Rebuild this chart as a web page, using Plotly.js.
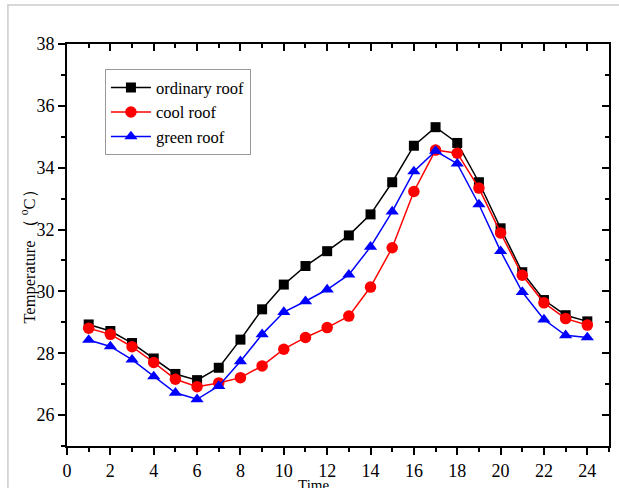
<!DOCTYPE html>
<html><head><meta charset="utf-8">
<script src="https://cdn.plot.ly/plotly-3.0.1.min.js"></script>
<style>html,body{margin:0;padding:0;background:#fff}#c{width:619px;height:488px}</style>
</head><body><div id="c"></div>
<script>
const hours = [1,2,3,4,5,6,7,8,9,10,11,12,13,14,15,16,17,18,19,20,21,22,23,24];
const ordinaryRoof = [28.93,28.72,28.33,27.83,27.33,27.13,27.53,28.44,29.42,30.22,30.82,31.30,31.81,32.49,33.53,34.71,35.31,34.80,33.53,32.04,30.62,29.72,29.23,29.03];
const coolRoof = [28.81,28.61,28.21,27.70,27.16,26.92,27.04,27.21,27.59,28.13,28.51,28.83,29.20,30.14,31.41,33.23,34.57,34.47,33.34,31.89,30.52,29.63,29.12,28.91];
const greenRoof = [28.43,28.22,27.79,27.25,26.72,26.51,26.94,27.74,28.61,29.33,29.68,30.06,30.54,31.44,32.58,33.88,34.54,34.13,32.81,31.30,29.98,29.09,28.58,28.51];
const seriesNames = ['ordinary roof','cool roof','green roof'];
const xTickVals = [0,2,4,6,8,10,12,14,16,18,20,22,24];
const yTickVals = [26,28,30,32,34,36,38];
const xTitle = 'Time';
const yTitle = 'Temperature （ <sup>o</sup>C）';

const serif = 'Liberation Serif, Times New Roman, serif';
const traces = [
  {x:hours,y:ordinaryRoof,name:seriesNames[0],mode:'lines+markers',
   line:{color:'#000000',width:1.5},marker:{symbol:'square',size:10,color:'#000000'}},
  {x:hours,y:coolRoof,name:seriesNames[1],mode:'lines+markers',
   line:{color:'#ff0000',width:1.5},marker:{symbol:'circle',size:11.5,color:'#ff0000'}},
  {x:hours,y:greenRoof,name:seriesNames[2],mode:'lines+markers',
   line:{color:'#0000ff',width:1.5},marker:{symbol:'triangle-up',size:11.5,color:'#0000ff'}},
  {x:[],y:[],xaxis:'x2',yaxis:'y2',showlegend:false,hoverinfo:'skip',mode:'markers'}
];
const xr=[0,25], yr=[25,38];
const layout = {
  width:619,height:488,
  margin:{l:67,r:10,t:44,b:42},
  paper_bgcolor:'#ffffff',plot_bgcolor:'#ffffff',
  font:{family:serif,color:'#000'},
  showlegend:true,
  legend:{x:0.07,y:0.937,xanchor:'left',yanchor:'top',bgcolor:'#ffffff',
    bordercolor:'#999999',borderwidth:1,font:{family:serif,size:16.5,color:'#000'},
    tracegroupgap:0,itemwidth:40},
  xaxis:{range:xr,tickvals:xTickVals,showgrid:false,zeroline:false,showline:true,
    linecolor:'#000',linewidth:2,ticks:'outside',ticklen:7,tickwidth:2,tickcolor:'#000',
    minor:{dtick:1,tick0:0,ticks:'outside',ticklen:4,tickwidth:2,tickcolor:'#000',showgrid:false},
    tickfont:{family:serif,size:18,color:'#000'}},
  yaxis:{range:yr,tickvals:yTickVals,showgrid:false,zeroline:false,showline:true,
    linecolor:'#000',linewidth:2,ticks:'outside',ticklen:7,tickwidth:2,tickcolor:'#000',
    minor:{dtick:1,tick0:0,ticks:'outside',ticklen:4,tickwidth:2,tickcolor:'#000',showgrid:false},
    tickfont:{family:serif,size:18,color:'#000'}},
  xaxis2:{range:xr,overlaying:'x',side:'top',anchor:'y2',tickvals:xTickVals,showticklabels:false,
    showgrid:false,zeroline:false,showline:true,linecolor:'#000',linewidth:2,
    ticks:'inside',ticklen:7,tickwidth:2,tickcolor:'#000',
    minor:{dtick:1,tick0:0,ticks:'inside',ticklen:4,tickwidth:2,tickcolor:'#000',showgrid:false}},
  yaxis2:{range:yr,overlaying:'y',side:'right',anchor:'x2',tickvals:yTickVals,showticklabels:false,
    showgrid:false,zeroline:false,showline:true,linecolor:'#000',linewidth:2,
    ticks:'inside',ticklen:7,tickwidth:2,tickcolor:'#000',
    minor:{dtick:1,tick0:0,ticks:'inside',ticklen:4,tickwidth:2,tickcolor:'#000',showgrid:false}},
  annotations:[
    {text:xTitle,xref:'paper',yref:'paper',x:0.454,y:-0.071,xanchor:'center',yanchor:'top',
     showarrow:false,font:{family:serif,size:15,color:'#000'}},
    {text:yTitle,xref:'paper',yref:'paper',x:-0.071,y:0.48,xanchor:'center',yanchor:'middle',
     textangle:-90,showarrow:false,font:{family:serif,size:16.5,color:'#000'}}
  ],
  shapes:[{type:'rect',xref:'paper',yref:'paper',x0:-0.109,x1:1.2,y0:-0.2,y1:1.097,
    line:{color:'#cccccc',width:1.5},fillcolor:'rgba(0,0,0,0)',layer:'below'}]
};
Plotly.newPlot('c',traces,layout,{displayModeBar:false,staticPlot:true});
</script></body></html>
